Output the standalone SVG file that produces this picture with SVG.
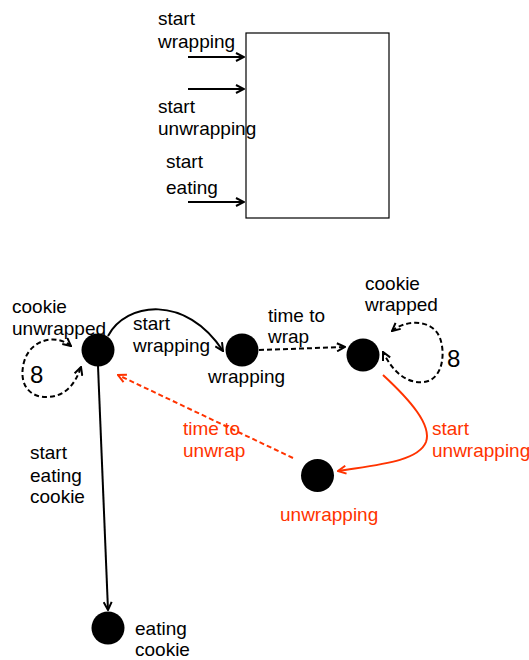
<svg xmlns="http://www.w3.org/2000/svg" width="529" height="660" viewBox="0 0 529 660">
  <style>
    text { font-family: "Liberation Sans", Arial, sans-serif; font-size: 19px; fill: #000; }
    .red { fill: #ff3300; }
    .big { font-size: 24px; }
    .node { fill: #000; }
    .edge { fill: none; stroke: #000; stroke-width: 2; }
    .dash { stroke-dasharray: 5 3; }
    .redline { stroke: #ff3300; }
  </style>
  <defs>
    <marker id="arrow" viewBox="0 0 10 10" refX="9" refY="5" markerWidth="10" markerHeight="10" markerUnits="userSpaceOnUse" orient="auto-start-reverse">
      <path d="M1,1 L9,5 L1,9" fill="none" stroke="#000" stroke-width="2"/>
    </marker>
    <marker id="arrowRed" viewBox="0 0 10 10" refX="9" refY="5" markerWidth="10" markerHeight="10" markerUnits="userSpaceOnUse" orient="auto-start-reverse">
      <path d="M1,1 L9,5 L1,9" fill="none" stroke="#ff3300" stroke-width="2"/>
    </marker>
  </defs>

  <!-- block with its three inputs -->
  <g id="block">
    <rect x="246" y="33" width="143" height="185" fill="#fff" stroke="#000" stroke-width="1.2"/>
  </g>
  <g id="inputs">
    <line class="edge" x1="188" y1="57" x2="244" y2="57" marker-end="url(#arrow)"/>
    <line class="edge" x1="188" y1="89" x2="244" y2="89" marker-end="url(#arrow)"/>
    <line class="edge" x1="188" y1="202" x2="244" y2="202" marker-end="url(#arrow)"/>
    <text x="158" y="25">start</text>
    <text x="158" y="48">wrapping</text>
    <text x="158" y="113">start</text>
    <text x="158" y="135">unwrapping</text>
    <text x="166" y="168">start</text>
    <text x="166" y="194">eating</text>
  </g>

  <!-- state machine connectors -->
  <g id="connectors">
    <path class="edge" d="M108,336 C126,302 186,294 223,351" marker-end="url(#arrow)"/>
    <line class="edge dash" x1="259" y1="350" x2="345" y2="347" marker-end="url(#arrow)"/>
    <path class="edge dash" d="M71,346 C55,333 30,340 24,362 C18,385 30,398 48,397 C65,396 75,385 81,367" marker-start="url(#arrow)" marker-end="url(#arrow)"/>
    <path class="edge dash" d="M392,331 C405,320 432,318 440,338 C446,355 442,380 424,382 C405,384 392,370 383,352" marker-start="url(#arrow)" marker-end="url(#arrow)"/>
    <path class="edge redline" d="M383,375 C410,400 432,425 426,442 C418,462 375,465 338,471" marker-end="url(#arrowRed)"/>
    <line class="edge redline dash" x1="293" y1="458" x2="118" y2="375" marker-end="url(#arrowRed)"/>
    <line class="edge" x1="98" y1="366" x2="108" y2="610" marker-end="url(#arrow)"/>
  </g>

  <!-- edge labels -->
  <g id="labels">
    <text x="133" y="330">start</text>
    <text x="133" y="352">wrapping</text>
    <text x="268" y="322">time to</text>
    <text x="268" y="343">wrap</text>
    <text class="big" x="30" y="383">8</text>
    <text class="big" x="447" y="367">8</text>
    <text class="red" x="432" y="435">start</text>
    <text class="red" x="432" y="457">unwrapping</text>
    <text class="red" x="183" y="435">time to</text>
    <text class="red" x="183" y="457">unwrap</text>
    <text x="30" y="459">start</text>
    <text x="30" y="482">eating</text>
    <text x="30" y="503">cookie</text>
  </g>

  <g id="cookie-unwrapped">
    <circle class="node" cx="98" cy="350" r="16.5"/>
    <text x="12" y="313">cookie</text>
    <text x="12" y="335">unwrapped</text>
  </g>
  <g id="wrapping">
    <circle class="node" cx="242" cy="350" r="16.5"/>
    <text x="208" y="383">wrapping</text>
  </g>
  <g id="cookie-wrapped">
    <circle class="node" cx="363" cy="355" r="16.5"/>
    <text x="365" y="290">cookie</text>
    <text x="365" y="311">wrapped</text>
  </g>
  <g id="unwrapping">
    <circle class="node" cx="317.5" cy="475.5" r="16.5"/>
    <text class="red" x="280" y="521">unwrapping</text>
  </g>
  <g id="eating-cookie">
    <circle class="node" cx="108" cy="628" r="16.5"/>
    <text x="135" y="635">eating</text>
    <text x="135" y="656">cookie</text>
  </g>
</svg>
